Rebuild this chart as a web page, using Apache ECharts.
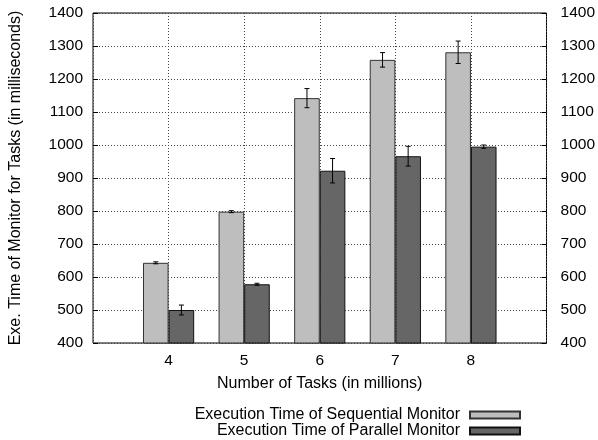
<!DOCTYPE html>
<html><head><meta charset="utf-8">
<script src="https://cdn.jsdelivr.net/npm/echarts@6/dist/echarts.min.js"></script>
<style>html,body{margin:0;padding:0;background:#fff}#c{width:598px;height:440px}</style>
</head><body><div id="c"></div>
<script>
const categories = ['', '4', '5', '6', '7', '8', ''];
const seqValues = [null, 643, 798, 1142, 1258, 1281, null];
const seqErrors = [null, 3, 3, 29, 22, 34, null];
const parValues = [null, 500, 578, 922, 966, 995, null];
const parErrors = [null, 15, 3, 37, 30, 5, null];

const SEQ = 'Execution Time of Sequential Monitor';
const PAR = 'Execution Time of Parallel Monitor';
const FONT = 'Liberation Sans, Arial, Helvetica, sans-serif';
const BW = 25.6;

function errData(vals, errs) {
  const out = [];
  vals.forEach((v, i) => { if (v != null) out.push([i, v - errs[i], v + errs[i]]); });
  return out;
}
function errRender(offset) {
  return function (params, api) {
    const lo = api.coord([api.value(0), api.value(1)]);
    const hi = api.coord([api.value(0), api.value(2)]);
    const x = lo[0] + offset;
    const cap = 2.5;
    const st = { stroke: '#000', lineWidth: 1 };
    return { type: 'group', children: [
      { type: 'line', shape: { x1: x, y1: lo[1], x2: x, y2: hi[1] }, style: st },
      { type: 'line', shape: { x1: x - cap, y1: lo[1], x2: x + cap, y2: lo[1] }, style: st },
      { type: 'line', shape: { x1: x - cap, y1: hi[1], x2: x + cap, y2: hi[1] }, style: st }
    ]};
  };
}
const yAxisBase = {
  type: 'value', min: 400, max: 1400, interval: 100,
  axisLine: { show: false },
  axisTick: { show: true, inside: true, length: 5, lineStyle: { color: '#000' } }
};
const labelStyle = { fontFamily: FONT, fontSize: 15.5, color: '#000', formatter: v => String(v) };
const chart = echarts.init(document.getElementById('c'), null, { renderer: 'canvas' });
chart.setOption({
  animation: false,
  backgroundColor: '#fff',
  grid: { left: 93, right: 47, top: 13, bottom: 97, show: true, borderColor: '#000', borderWidth: 1, containLabel: false },
  legend: [
    { data: [{ name: SEQ, icon: 'rect' }], right: 77, top: 407, orient: 'vertical', align: 'right', padding: 0, itemWidth: 50, itemHeight: 7,
      textStyle: { fontFamily: FONT, fontSize: 16, color: '#000', padding: [0, 5, 0, 0] } },
    { data: [{ name: PAR, icon: 'rect' }], right: 77, top: 423, orient: 'vertical', align: 'right', padding: 0, itemWidth: 50, itemHeight: 7,
      textStyle: { fontFamily: FONT, fontSize: 16, color: '#000', padding: [0, 5, 0, 0] } }
  ],
  xAxis: {
    type: 'category', data: categories, boundaryGap: false,
    name: 'Number of Tasks (in millions)', nameLocation: 'middle', nameGap: 33,
    nameTextStyle: { fontFamily: FONT, fontSize: 16, color: '#000' },
    axisLine: { show: false },
    axisTick: { show: false },
    axisLabel: { fontFamily: FONT, fontSize: 15.5, color: '#000', margin: 10, interval: 0 },
    splitLine: { show: true, lineStyle: { color: '#444', type: [1, 2], width: 1 } }
  },
  yAxis: [
    Object.assign({}, yAxisBase, {
      position: 'left',
      axisLabel: Object.assign({ margin: 10 }, labelStyle),
      name: 'Exe. Time of Monitor for Tasks (in milliseconds)', nameLocation: 'middle', nameGap: 69,
      nameTextStyle: { fontFamily: FONT, fontSize: 16, color: '#000' },
      splitLine: { show: true, lineStyle: { color: '#444', type: [1, 2], width: 1 } }
    }),
    Object.assign({}, yAxisBase, {
      position: 'right',
      axisLabel: Object.assign({ margin: 14 }, labelStyle),
      splitLine: { show: false }
    })
  ],
  series: [
    { name: SEQ, type: 'bar', data: seqValues, barWidth: BW, barGap: '0%',
      itemStyle: { color: '#bebebe', borderColor: '#333', borderWidth: 1 } },
    { name: PAR, type: 'bar', data: parValues, barWidth: BW, barGap: '0%',
      itemStyle: { color: '#666666', borderColor: '#111', borderWidth: 1 } },
    { type: 'custom', renderItem: errRender(-BW / 2), data: errData(seqValues, seqErrors), z: 5, silent: true },
    { type: 'custom', renderItem: errRender(BW / 2), data: errData(parValues, parErrors), z: 5, silent: true }
  ]
});
</script></body></html>
